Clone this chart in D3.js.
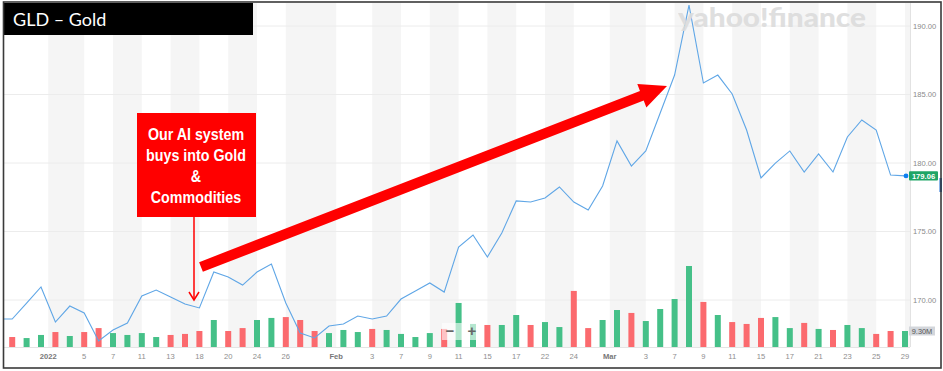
<!DOCTYPE html>
<html>
<head>
<meta charset="utf-8">
<script src="https://cdn.jsdelivr.net/npm/d3@7"></script>
<style>
  html, body { margin: 0; padding: 0; background: #fff; }
  svg { display: block; }
</style>
</head>
<body>
<div id="chart"></div>
<script>
// ── Data ────────────────────────────────────────────────────────────────────
var days = [
  "2021-12-28","2021-12-29","2021-12-30","2021-12-31",
  "2022-01-03","2022-01-04","2022-01-05","2022-01-06","2022-01-07","2022-01-10","2022-01-11","2022-01-12",
  "2022-01-13","2022-01-14","2022-01-18","2022-01-19","2022-01-20","2022-01-21","2022-01-24","2022-01-25",
  "2022-01-26","2022-01-27","2022-01-28","2022-01-31",
  "2022-02-01","2022-02-02","2022-02-03","2022-02-04","2022-02-07","2022-02-08","2022-02-09","2022-02-10",
  "2022-02-11","2022-02-14","2022-02-15","2022-02-16","2022-02-17","2022-02-18","2022-02-22","2022-02-23",
  "2022-02-24","2022-02-25","2022-02-28",
  "2022-03-01","2022-03-02","2022-03-03","2022-03-04","2022-03-07","2022-03-08","2022-03-09","2022-03-10",
  "2022-03-11","2022-03-14","2022-03-15","2022-03-16","2022-03-17","2022-03-18","2022-03-21","2022-03-22",
  "2022-03-23","2022-03-24","2022-03-25","2022-03-28","2022-03-29"
];

var closes = [
  168.61, 168.61, 169.78, 170.95,
  168.39, 169.56, 169.05, 167.01, 167.81, 168.32, 170.29, 170.73,
  170.22, 169.71, 169.42, 172.04, 171.68, 171.09, 172.04, 172.63,
  169.78, 167.59, 167.23, 168.10,
  168.25, 168.83, 168.61, 168.83, 170.07, 170.66, 171.24, 170.58,
  173.87, 174.74, 173.14, 174.89, 177.23, 177.15, 177.45, 178.25,
  177.15, 176.57, 178.32,
  181.61, 179.78, 180.88, 183.65, 186.42, 191.53, 185.84, 186.42,
  185.04, 182.41, 178.91, 179.99, 180.88, 179.34, 180.66, 179.34,
  181.90, 183.14, 182.41, 179.12, 179.06
];

// volume in millions (null = not shown)
var volumes = [
  null, 5.8, 5.2, 7.0,
  8.7, 6.4, 8.7, 11.0, 8.1, 7.0, 8.1, 5.8,
  7.0, 7.6, 9.3, 15.7, 9.3, 11.0, 15.7, 16.9,
  17.4, 15.7, 9.3, 8.1,
  9.9, 8.7, 10.5, 9.9, 7.6, 5.8, 8.1, 10.5,
  25.6, 13.4, 12.8, 12.8, 18.6, 12.8, 14.5, 11.6,
  32.6, 11.0, 15.7,
  21.5, 19.8, 15.1, 22.1, 27.9, 47.1, 26.2, 18.6,
  14.5, 13.4, 16.9, 17.4, 11.0, 14.0, 10.5, 9.9,
  12.8, 11.0, 7.6, 9.3, 9.3
];

// 1 = up day (green volume bar), 0 = down day (red)
var upDay = [
  0, 0, 1, 1,
  0, 1, 0, 0, 1, 1, 1, 1,
  0, 0, 0, 1, 0, 0, 1, 1,
  0, 0, 0, 1,
  1, 1, 0, 1, 1, 1, 1, 0,
  1, 1, 0, 1, 1, 0, 1, 1,
  0, 0, 1,
  1, 0, 1, 1, 1, 1, 0, 1,
  0, 0, 0, 1, 1, 0, 1, 0,
  1, 1, 0, 0, 1
];

var tickLabels = ["2022","5","7","11","13","18","20","24","26",
                  "Feb","3","7","9","11","15","17","22","24",
                  "Mar","3","7","9","11","15","17","21","23","25","29"];
var tickDates  = ["2022-01-03","2022-01-05","2022-01-07","2022-01-11","2022-01-13","2022-01-18","2022-01-20","2022-01-24","2022-01-26",
                  "2022-02-01","2022-02-03","2022-02-07","2022-02-09","2022-02-11","2022-02-15","2022-02-17","2022-02-22","2022-02-24",
                  "2022-03-01","2022-03-03","2022-03-07","2022-03-09","2022-03-11","2022-03-15","2022-03-17","2022-03-21","2022-03-23","2022-03-25","2022-03-29"];

var priceTicks = [170, 175, 180, 185, 190];
var lastLabel = "179.06";
var volLabel = "9.30M";

// ── Layout ──────────────────────────────────────────────────────────────────
var W = 943, H = 371;
var PL = 4, PR = 910, PT = 3, PB = 347;   // plot box
var AXF = "'Liberation Sans', Arial, sans-serif";

var svg = d3.select("#chart").append("svg")
  .attr("width", W).attr("height", H)
  .attr("viewBox", "0 0 " + W + " " + H);

svg.append("rect").attr("width", W).attr("height", H).attr("fill", "#fff");

var x  = d3.scaleLinear().domain([0, days.length - 1]).range([-2.2, 905]);
var y  = d3.scaleLinear().domain([170, 190]).range([300, 26]);
var yv = d3.scaleLinear().domain([0, 50]).range([PB, PB - 86]);

var defs = svg.append("defs");
defs.append("clipPath").attr("id", "plot-clip")
  .append("rect").attr("x", PL).attr("y", PT).attr("width", PR - PL).attr("height", PB - PT);

var plot = svg.append("g").attr("clip-path", "url(#plot-clip)");

// month/year labels sit between the two trading days
function isBoundary(lbl) { return isNaN(+lbl) || lbl === "2022"; }
var tickPos = tickLabels.map(function (lbl, i) {
  var idx = days.indexOf(tickDates[i]);
  return isBoundary(lbl) ? x(idx - 0.5) : x(idx);
});

// ── Alternating column bands ────────────────────────────────────────────────
var bandEdges = tickPos.concat([PR]);
for (var k = 0; k < bandEdges.length - 1; k++) {
  if (k % 2 === 0) {
    plot.append("rect")
      .attr("x", bandEdges[k]).attr("y", PT)
      .attr("width", bandEdges[k + 1] - bandEdges[k]).attr("height", PB - PT)
      .attr("fill", "#f5f5f5");
  }
}

// horizontal grid
plot.selectAll(".grid").data(priceTicks).enter().append("line")
  .attr("x1", PL).attr("x2", PR)
  .attr("y1", function (d) { return y(d); }).attr("y2", function (d) { return y(d); })
  .attr("stroke", "#ececec").attr("stroke-width", 1);

// ── Volume bars ─────────────────────────────────────────────────────────────
var volData = days.map(function (d, i) { return { i: i, v: volumes[i], up: upDay[i] }; })
  .filter(function (d) { return d.v != null; });

plot.selectAll(".vol").data(volData).enter().append("rect")
  .attr("x", function (d) { return x(d.i) - 3; })
  .attr("width", 6)
  .attr("y", function (d) { return yv(d.v); })
  .attr("height", function (d) { return yv(0) - yv(d.v); })
  .attr("fill", function (d) { return d.up ? "#45c088" : "#fb6a6e"; });

// baseline
svg.append("line").attr("x1", PL).attr("x2", PR).attr("y1", PB + 0.5).attr("y2", PB + 0.5)
  .attr("stroke", "#e4e4e4");

// ── Watermark ───────────────────────────────────────────────────────────────
svg.append("text")
  .attr("x", 678).attr("y", 27)
  .attr("font-family", "Lato, 'Open Sans', sans-serif")
  .attr("font-weight", 900)
  .attr("font-size", "26px")
  .attr("textLength", 188).attr("lengthAdjust", "spacingAndGlyphs")
  .attr("fill", "#dcdcdc").attr("opacity", 0.9)
  .text("yahoo!finance");

// ── Price line ──────────────────────────────────────────────────────────────
var line = d3.line()
  .x(function (d, i) { return x(i); })
  .y(function (d) { return y(d); });

plot.append("path")
  .attr("d", line(closes))
  .attr("fill", "none")
  .attr("stroke", "#5fa6e6")
  .attr("stroke-width", 1.1);

var last = closes.length - 1;
svg.append("circle").attr("cx", x(last) + 1).attr("cy", y(closes[last])).attr("r", 2.4).attr("fill", "#0d7ff0");

// ── Right axis ──────────────────────────────────────────────────────────────
svg.append("line").attr("x1", PR + 0.5).attr("x2", PR + 0.5).attr("y1", PT).attr("y2", PB)
  .attr("stroke", "#e2e2e2");

var yAxis = svg.append("g")
  .attr("transform", "translate(" + (PR - 3) + ",0)")
  .call(d3.axisRight(y).tickValues(priceTicks).tickFormat(d3.format(".2f")).tickSize(0).tickPadding(6));
yAxis.select(".domain").remove();
yAxis.selectAll("text")
  .attr("font-family", AXF).attr("font-size", "7.6px").attr("fill", "#8a8a8a");

// last price tag
var lp = y(closes[last]);
svg.append("rect").attr("x", 909).attr("y", lp - 4.7).attr("width", 29).attr("height", 9.4).attr("rx", 1)
  .attr("fill", "#1fa566");
svg.append("text").attr("x", 923.5).attr("y", lp + 2.7).attr("text-anchor", "middle")
  .attr("font-family", AXF).attr("font-size", "7.6px").attr("font-weight", "bold").attr("fill", "#fff")
  .text(lastLabel);

// volume tag
var lv = yv(volumes[last]);
svg.append("rect").attr("x", 909).attr("y", lv - 4.5).attr("width", 26).attr("height", 9).attr("fill", "#d3d6db");
svg.append("text").attr("x", 922).attr("y", lv + 2.6).attr("text-anchor", "middle")
  .attr("font-family", AXF).attr("font-size", "7.4px").attr("fill", "#555")
  .text(volLabel);

// small blue marker at right edge
svg.append("rect").attr("x", 939.5).attr("y", 178).attr("width", 2.5).attr("height", 14).attr("fill", "#1f6fd6");

// ── Date axis ───────────────────────────────────────────────────────────────
var xAxis = svg.append("g").attr("transform", "translate(0," + (PB + 6) + ")");
xAxis.selectAll("text").data(tickLabels).enter().append("text")
  .attr("x", function (d, i) { return tickPos[i]; })
  .attr("y", 5.5)
  .attr("text-anchor", "middle")
  .attr("font-family", AXF)
  .attr("font-size", "7.6px")
  .attr("font-weight", function (d) { return isBoundary(d) ? "bold" : "normal"; })
  .attr("fill", function (d) { return isBoundary(d) ? "#777" : "#8e8e8e"; })
  .text(function (d) { return d; });

// ── Zoom control overlay ────────────────────────────────────────────────────
svg.append("rect").attr("x", 442).attr("y", 323).attr("width", 41).attr("height", 17)
  .attr("fill", "#fff").attr("opacity", 0.6);
svg.append("text").attr("x", 450).attr("y", 336).attr("text-anchor", "middle")
  .attr("font-family", AXF).attr("font-size", "15px").attr("font-weight", "bold").attr("fill", "#666").text("\u2212");
svg.append("text").attr("x", 472).attr("y", 336).attr("text-anchor", "middle")
  .attr("font-family", AXF).attr("font-size", "15px").attr("font-weight", "bold").attr("fill", "#666").text("+");

// ── Title box ───────────────────────────────────────────────────────────────
svg.append("rect").attr("x", 4).attr("y", 3).attr("width", 249).attr("height", 32).attr("fill", "#000");
svg.append("text").attr("x", 13).attr("y", 26)
  .attr("font-family", "Lato, Carlito, 'Open Sans', sans-serif")
  .attr("font-size", "18px").attr("fill", "#fff")
  .text("GLD \u2013 Gold");

// ── Annotation ──────────────────────────────────────────────────────────────
var RED = "#ff0000";
svg.append("rect").attr("x", 137).attr("y", 113).attr("width", 119).attr("height", 104).attr("fill", RED);
var noteLines = ["Our AI system", "buys into Gold", "&", "Commodities"];
// narrow bold face: Liberation Sans Bold squeezed horizontally
svg.append("g").attr("transform", "translate(196,0) scale(0.84,1)")
  .selectAll("text").data(noteLines).enter().append("text")
  .attr("x", 0).attr("y", function (d, i) { return 140 + i * 21; })
  .attr("text-anchor", "middle")
  .attr("font-family", AXF)
  .attr("font-weight", "bold").attr("font-size", "17px").attr("fill", "#fff")
  .text(function (d) { return d; });

svg.append("line").attr("x1", 194).attr("x2", 194).attr("y1", 217).attr("y2", 300)
  .attr("stroke", RED).attr("stroke-width", 1.5);
svg.append("path").attr("d", "M189,292 L194,300 L199,292")
  .attr("fill", "none").attr("stroke", RED).attr("stroke-width", 1.5);

// big arrow
(function () {
  var sx = 201, sy = 267, tx = 667, ty = 86;
  var dx = tx - sx, dy = ty - sy, len = Math.sqrt(dx * dx + dy * dy);
  var ux = dx / len, uy = dy / len, nx = -uy, ny = ux;
  var hw = 5.2, hl = 27, hh = 12.5;
  var bx = tx - ux * hl, by = ty - uy * hl;
  var pts = [
    [sx + nx * hw, sy + ny * hw],
    [bx + nx * hw, by + ny * hw],
    [bx + nx * hh, by + ny * hh],
    [tx, ty],
    [bx - nx * hh, by - ny * hh],
    [bx - nx * hw, by - ny * hw],
    [sx - nx * hw, sy - ny * hw]
  ];
  svg.append("path").attr("d", "M" + pts.map(function (p) { return p.join(","); }).join("L") + "Z")
    .attr("fill", RED);
})();

// ── Frame ───────────────────────────────────────────────────────────────────
svg.append("rect").attr("x", 3.5).attr("y", 2).attr("width", 937.5).attr("height", 366)
  .attr("fill", "none").attr("stroke", "#3a3a3a").attr("stroke-width", 1.6);
</script>
</body>
</html>
